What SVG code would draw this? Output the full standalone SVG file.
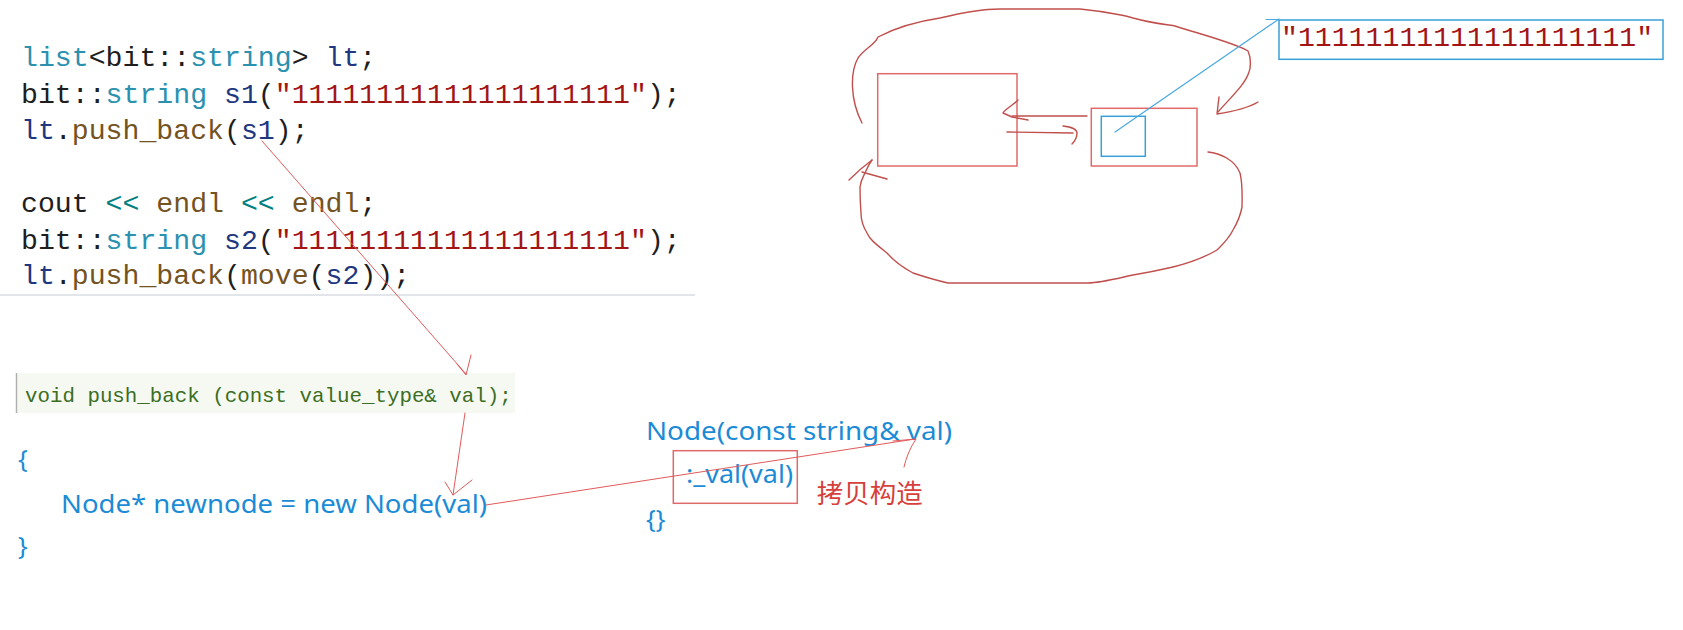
<svg xmlns="http://www.w3.org/2000/svg" width="1683" height="630" viewBox="0 0 1683 630">
<style>
.code{font-family:"Liberation Mono","DejaVu Sans Mono",monospace;font-size:28.2px;white-space:pre;fill:#1e1e1e}
.tp{fill:#2B91AF}.vr{fill:#1F377F}.st{fill:#A31515}.fn{fill:#74531F}.op{fill:#008080}
.voidt{font-family:"Liberation Mono","DejaVu Sans Mono",monospace;font-size:20.8px;white-space:pre;fill:#3b6e22}
.blue{font-family:"Noto Sans","Liberation Sans",sans-serif;font-size:25.5px;fill:#1b8bd6;white-space:pre}
.cn{font-family:"Noto Sans CJK SC","Noto Sans",sans-serif;font-size:26.5px;fill:#d63f3b}
.rbox{fill:none;stroke:#e06a6a;stroke-width:1.5}
.bbox{fill:none;stroke:#3aa0d8;stroke-width:1.5}
.pen{fill:none;stroke:#c0504d;stroke-width:1.4;stroke-linecap:round;stroke-linejoin:round}
.arr{fill:none;stroke:#e25a5a;stroke-width:1;stroke-linecap:round;stroke-linejoin:round}
.bl{fill:none;stroke:#4aa8e0;stroke-width:1.2;stroke-linecap:round}
</style>
<rect width="1683" height="630" fill="#ffffff"/>

<g id="code-block">
<text class="code" x="21" y="66"><tspan class="tp">list</tspan>&lt;bit::<tspan class="tp">string</tspan>&gt; <tspan class="vr">lt</tspan>;</text>
<text class="code" x="21" y="102.5">bit::<tspan class="tp">string</tspan> <tspan class="vr">s1</tspan>(<tspan class="st">"11111111111111111111"</tspan>);</text>
<text class="code" x="21" y="139"><tspan class="vr">lt</tspan>.<tspan class="fn">push_back</tspan>(<tspan class="vr">s1</tspan>);</text>
<text class="code" x="21" y="212"><tspan>cout</tspan> <tspan class="op">&lt;&lt;</tspan> <tspan class="fn">endl</tspan> <tspan class="op">&lt;&lt;</tspan> <tspan class="fn">endl</tspan>;</text>
<text class="code" x="21" y="248.5">bit::<tspan class="tp">string</tspan> <tspan class="vr">s2</tspan>(<tspan class="st">"11111111111111111111"</tspan>);</text>
<text class="code" x="21" y="284"><tspan class="vr">lt</tspan>.<tspan class="fn">push_back</tspan>(<tspan class="fn">move</tspan>(<tspan class="vr">s2</tspan>));</text>
<line x1="0" y1="295" x2="695" y2="295" stroke="#e2e5ea" stroke-width="2"/>
</g>

<g id="push-back-decl">
<rect x="16" y="373" width="499" height="40" fill="#f6f9f2"/>
<line x1="16.5" y1="373" x2="16.5" y2="413" stroke="#b0b0b0" stroke-width="1.5"/>
<text class="voidt" x="25" y="401.7">void push_back (const value_type&amp; val);</text>
</g>

<g id="push-back-body">
<text class="blue" x="18" y="468">{</text>
<text class="blue" x="61" y="513" textLength="426" lengthAdjust="spacingAndGlyphs">Node* newnode = new Node(val)</text>
<text class="blue" x="18" y="555">}</text>
</g>

<g id="node-ctor">
<text class="blue" x="646" y="439.5" textLength="306" lengthAdjust="spacingAndGlyphs">Node(const string&amp; val)</text>
<rect class="rbox" x="673.3" y="450.7" width="124" height="52.6"/>
<text class="blue" x="686" y="483.3" textLength="107" lengthAdjust="spacingAndGlyphs">:_val(val)</text>
<text class="blue" x="646" y="528">{}</text>
<text class="cn" x="816.7" y="503" textLength="106" lengthAdjust="spacingAndGlyphs">拷贝构造</text>
</g>

<g id="list-node-left">
<rect class="rbox" x="877.7" y="73.7" width="139.3" height="92.3"/>
</g>
<g id="list-node-right">
<rect class="rbox" x="1091.3" y="108.3" width="105.7" height="57.7"/>
<rect class="bbox" x="1101.3" y="116.3" width="44" height="40"/>
</g>
<g id="heap-string">
<rect class="bbox" x="1279" y="20" width="384" height="39.3"/>
<text class="code" x="1281" y="45.5"><tspan class="st">"11111111111111111111"</tspan></text>
</g>

<g id="connectors">
<path class="arr" d="M262,141 L466,374"/>
<path class="arr" d="M457,364 L466,375 L471,355"/>
<path class="arr" d="M465,413 L453,495"/>
<path class="arr" d="M445,482 L453,495 L472,480"/>
<path class="arr" d="M486,505 L915,439"/>
<path class="arr" d="M893,441 L916,439 C910,448 906,458 904,467"/>
<path class="pen" d="M862,123 C850,100 850,72 858,58 C865,48 875,45 878,37 C895,28 920,21 940,18 C965,12 985,9 1000,9 L1080,9 C1110,12 1130,17 1133,18 C1150,23 1170,25 1175,26 C1200,34 1235,43 1248,51 C1252,60 1250,70 1249,72 C1245,85 1230,98 1218,112"/>
<path class="pen" d="M1219,97 L1217,114 C1230,112 1248,108 1258,102"/>
<path class="pen" d="M1208,152 C1220,153 1235,160 1240,173 C1243,185 1242,200 1242,207 C1240,218 1236,225 1233,230 C1228,240 1220,247 1217,250 C1200,260 1185,264 1173,267 C1160,270 1145,273 1133,275 C1115,279 1100,283 1088,283 L948,283 C935,280 925,277 913,273 C900,266 893,260 887,253 C877,245 870,240 867,233 C862,225 861,220 861,213 C860,200 860,195 860,187 C861,180 863,177 865,173 C867,168 869,164 872,160"/>
<path class="pen" d="M849,180 C857,172 864,166 872,160 M862,172 L887,179"/>
<path class="pen" d="M1087,116 L1012,116"/>
<path class="pen" d="M1018,100 C1012,106 1004,110 1003,113 L1012,117 L1028,120"/>
<path class="pen" d="M1007,132 L1073,133"/>
<path class="pen" d="M1063,126 C1072,127 1077,130 1077,133 C1077,138 1075,141 1072,144"/>
<path class="bl" d="M1115,132 L1279,19 M1266,19.5 L1279,19.5"/>
</g>
</svg>
